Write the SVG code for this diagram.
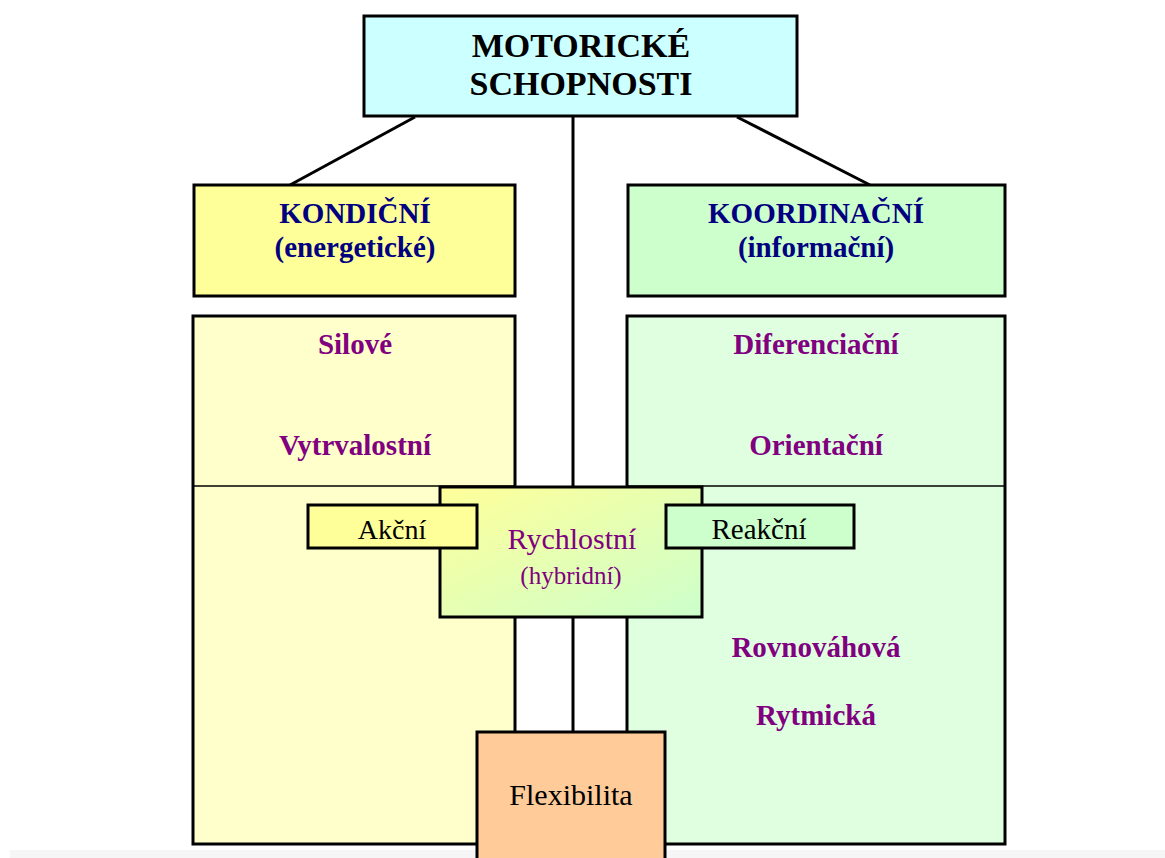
<svg xmlns="http://www.w3.org/2000/svg" width="1165" height="858" viewBox="0 0 1165 858">
<style>
.box{stroke:#000;stroke-width:3}
.thin{stroke:#000;stroke-width:1.3;fill:none}
.conn{stroke:#000;stroke-width:3;fill:none}
text{font-family:"Liberation Serif","Times New Roman",serif;text-anchor:middle}
.title{font-size:34px;font-weight:bold;fill:#000}
.head{font-size:29px;font-weight:bold;fill:#000080}
.cat{font-size:29px;font-weight:bold;fill:#800080}
.plain{font-size:28px;fill:#000}
.hyb{fill:#800080}
</style>
<defs>
<linearGradient id="grad" x1="0" y1="0" x2="1" y2="1">
<stop offset="0" stop-color="#FFFF99"/>
<stop offset="1" stop-color="#CCFFCC"/>
</linearGradient>
</defs>
<rect x="0" y="0" width="1165" height="858" fill="#fff"/>
<rect x="10" y="850" width="1155" height="8" fill="#f6f6f6"/>
<g id="connectors">
<line class="conn" x1="415" y1="117" x2="290" y2="185"/>
<line class="conn" x1="737" y1="117" x2="870" y2="185"/>
<line class="conn" x1="573" y1="117" x2="573" y2="731"/>
</g>
<g id="node-kondicni-body">
<rect class="box" x="193" y="316" width="322" height="528" fill="#FFFFCC"/>
</g>
<g id="node-koordinacni-body">
<rect class="box" x="627" y="316" width="378" height="528" fill="#E0FFE0"/>
</g>
<line class="thin" x1="193" y1="486" x2="515" y2="486"/>
<line class="thin" x1="627" y1="486" x2="1005" y2="486"/>
<g id="node-motoricke">
<rect class="box" x="364" y="16" width="433" height="100" fill="#CCFFFF"/>
<text class="title" x="581" y="57">MOTORICKÉ</text>
<text class="title" x="581" y="95">SCHOPNOSTI</text>
</g>
<g id="node-kondicni">
<rect class="box" x="194" y="185" width="321" height="111" fill="#FFFF99"/>
<text class="head" x="355" y="223">KONDIČNÍ</text>
<text class="head" x="355" y="257">(energetické)</text>
</g>
<g id="node-koordinacni">
<rect class="box" x="628" y="185" width="377" height="111" fill="#CCFFCC"/>
<text class="head" x="816" y="223">KOORDINAČNÍ</text>
<text class="head" x="816" y="257">(informační)</text>
</g>
<g id="node-silove"><text class="cat" x="355" y="354">Silové</text></g>
<g id="node-vytrvalostni"><text class="cat" x="355" y="455">Vytrvalostní</text></g>
<g id="node-diferenciacni"><text class="cat" x="816" y="354">Diferenciační</text></g>
<g id="node-orientacni"><text class="cat" x="816" y="455">Orientační</text></g>
<g id="node-rovnovahova"><text class="cat" x="816" y="657">Rovnováhová</text></g>
<g id="node-rytmicka"><text class="cat" x="816" y="725">Rytmická</text></g>
<g id="node-rychlostni">
<rect class="box" x="440" y="487" width="262" height="130" fill="url(#grad)"/>
<text class="plain hyb" x="572" y="549" style="font-size:30px">Rychlostní</text>
<text class="plain hyb" x="571" y="584" style="font-size:25px">(hybridní)</text>
</g>
<g id="node-akcni">
<rect class="box" x="308" y="505" width="169" height="43" fill="#FFFF99"/>
<text class="plain" x="392" y="539">Akční</text>
</g>
<g id="node-reakcni">
<rect class="box" x="666" y="505" width="188" height="43" fill="#CCFFCC"/>
<text class="plain" x="759" y="539" style="font-size:29px">Reakční</text>
</g>
<g id="node-flexibilita">
<rect class="box" x="477" y="732" width="188" height="140" fill="#FFCC99"/>
<text class="plain" x="571" y="805" style="font-size:30px">Flexibilita</text>
</g>
</svg>
